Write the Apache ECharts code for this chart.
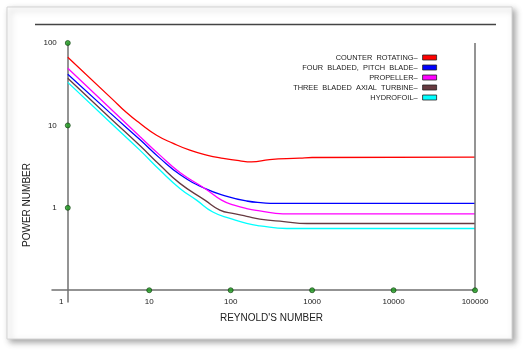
<!DOCTYPE html>
<html><head><meta charset="utf-8">
<script src="https://cdn.jsdelivr.net/npm/echarts@6/dist/echarts.min.js"></script>
<style>html,body{margin:0;padding:0;background:#fff;}#c{width:527px;height:354px;}</style>
</head><body><div id="c"></div>
<script>
// ---- data ----
const seriesNames = ['COUNTER ROTATING', 'FOUR BLADED, PITCH BLADE', 'PROPELLER', 'THREE BLADED AXIAL TURBINE', 'HYDROFOIL'];
const seriesColors = ['#ff0000', '#0000ff', '#ff00ff', '#663a40', '#00ffff'];

const reCounter = [1, 3.44, 5.26, 7.67, 12.3, 19.7, 31.5, 50.6, 80.9, 130, 180, 300, 700, 1000, 100000];
const npCounter = [67, 21.3, 14.3, 10.6, 7.6, 6.05, 5.0, 4.36, 3.98, 3.72, 3.62, 3.85, 4.0, 4.08, 4.12];

const reFour = [1, 3.28, 7.67, 13.5, 23.8, 48.2, 90, 157, 250, 349, 100000];
const npFour = [41.7, 14.3, 6.73, 4.01, 2.54, 1.72, 1.38, 1.21, 1.15, 1.13, 1.13];

const reProp = [1, 3.28, 7.67, 13.5, 23.8, 48.2, 77.3, 110, 157, 228, 438, 100000];
const npProp = [49.3, 16.3, 7.34, 4.36, 2.69, 1.72, 1.24, 1.08, 0.98, 0.92, 0.845, 0.845];

const reThree = [1, 3.28, 7.67, 13.5, 23.8, 48.2, 73.7, 110, 157, 228, 450, 863, 100000];
const npThree = [37.3, 12.4, 5.69, 3.30, 1.98, 1.24, 0.94, 0.85, 0.79, 0.73, 0.68, 0.645, 0.645];

const reHydro = [1, 3.28, 7.67, 13.5, 23.8, 38.1, 60.4, 100, 157, 228, 490, 100000];
const npHydro = [33.3, 11.0, 5.01, 2.87, 1.72, 1.24, 0.89, 0.74, 0.646, 0.605, 0.561, 0.561];

const xTickValues = [1, 10, 100, 1000, 10000, 100000];
const yTickValues = [1, 10, 100];
const xDotValues = [10, 100, 1000, 10000, 100000];
const xMin = 0.64, xMax = 100000;
const yMin = 0.072, yMax = 100, yBase = 0.1;

const xTitle = "REYNOLD'S NUMBER";
const yTitle = 'POWER NUMBER';

// ---- build ----
const zip = (a, b) => a.map((v, i) => [v, b[i]]);
const lineData = [zip(reCounter, npCounter), zip(reFour, npFour), zip(reProp, npProp), zip(reThree, npThree), zip(reHydro, npHydro)];
const isPow10 = v => v >= 0.99 && Math.abs(Math.log10(v) - Math.round(Math.log10(v))) < 1e-6;
const axisColor = '#707070';
const font = 'Liberation Sans, Arial, sans-serif';

const series = seriesNames.map((n, i) => ({
  name: n, type: 'line', data: lineData[i], showSymbol: false, smooth: 0.5,
  itemStyle: { color: seriesColors[i] },
  lineStyle: { color: seriesColors[i], width: 1.3 },
  silent: true, z: 3
}));
series.push({
  name: 'ydots', type: 'scatter', clip: false, z: 10, symbolSize: 5,
  data: yTickValues.map(v => [1, v]),
  itemStyle: { color: '#1c9c1c', borderColor: '#0b3b0b', borderWidth: 0.8 },
  markLine: {
    silent: true, symbol: ['none', 'none'], label: { show: false },
    lineStyle: { color: axisColor, width: 1.5, type: 'solid' },
    data: [[{ coord: [xMax, yBase] }, { coord: [xMax, yMax] }]]
  }
});
series.push({
  name: 'xdots', type: 'scatter', clip: false, z: 10, symbolSize: 5,
  data: xDotValues.map(v => [v, yBase]),
  itemStyle: { color: '#1c9c1c', borderColor: '#0b3b0b', borderWidth: 0.8 }
});

const chart = echarts.init(document.getElementById('c'));
chart.setOption({
  animation: false,
  backgroundColor: '#fff',
  textStyle: { fontFamily: font },
  graphic: [
    { type: 'rect', z: -10, silent: true, shape: { x: 7, y: 7, width: 505, height: 332 },
      style: { fill: '#fff', stroke: '#d4d4d4', lineWidth: 1, shadowBlur: 6, shadowOffsetX: 3, shadowOffsetY: 3, shadowColor: 'rgba(0,0,0,0.35)' } },
    { type: 'line', z: -5, silent: true, shape: { x1: 35, y1: 24.5, x2: 496, y2: 24.5 },
      style: { stroke: '#444', lineWidth: 1.5 } }
  ],
  grid: { left: 52, right: 52, top: 43, bottom: 52 },
  legend: {
    data: seriesNames, orient: 'vertical', align: 'right', right: 90, top: 52.5, padding: 0,
    itemGap: 0, itemWidth: 14, itemHeight: 5, icon: 'rect',
    itemStyle: { borderColor: '#222', borderWidth: 0.8 },
    formatter: n => n.replace(/ /g, '  ') + '\u2013',
    textStyle: { fontSize: 7.4, color: '#222', lineHeight: 10, fontFamily: font }
  },
  xAxis: {
    type: 'log', logBase: 10, min: xMin, max: xMax, offset: -12,
    name: xTitle, nameLocation: 'middle', nameGap: 23,
    nameTextStyle: { fontSize: 10, color: '#222', padding: [0, 0, 0, 16], fontFamily: font },
    axisLine: { show: true, lineStyle: { color: axisColor, width: 1.5 } },
    axisTick: { show: false }, splitLine: { show: false }, minorTick: { show: false },
    axisLabel: {
      fontSize: 8, color: '#222', margin: 8, fontFamily: font,
      showMinLabel: true, showMaxLabel: true,
      formatter: v => {
        if (!isPow10(v)) return '';
        const r = Math.round(v);
        return r === xTickValues[0] ? '{o|' + r + '}' : String(r);
      },
      rich: { o: { fontSize: 8, color: '#222', padding: [0, 13, 0, 0], fontFamily: font } }
    }
  },
  yAxis: {
    type: 'log', logBase: 10, min: yMin, max: yMax, offset: -15.8,
    name: yTitle, nameLocation: 'middle', nameGap: 34, nameRotate: 90,
    nameTextStyle: { fontSize: 10, color: '#222', padding: [0, 65, 0, 0], fontFamily: font },
    axisLine: { show: true, lineStyle: { color: axisColor, width: 1.5 } },
    axisTick: { show: false }, splitLine: { show: false }, minorTick: { show: false },
    axisLabel: {
      fontSize: 8, color: '#222', margin: 11, fontFamily: font,
      formatter: v => (isPow10(v) && yTickValues.includes(Math.round(v))) ? String(Math.round(v)) : ''
    }
  },
  series: series
});
</script></body></html>
